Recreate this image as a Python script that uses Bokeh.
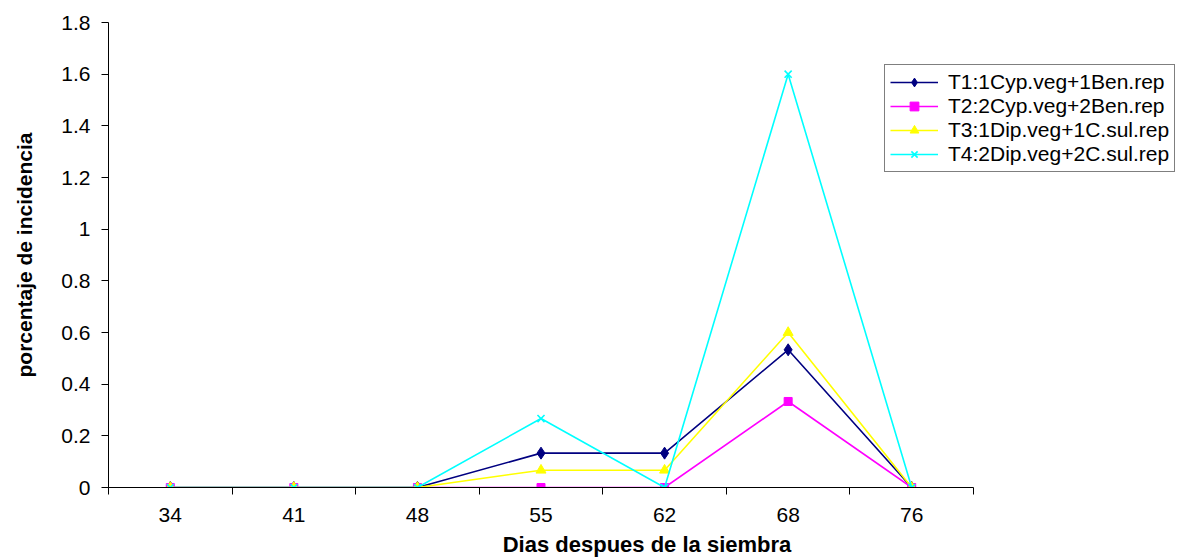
from bokeh.plotting import figure
from bokeh.models import (Range1d, FixedTicker, CustomJSTickFormatter)
from bokeh.embed import file_html
from bokeh.resources import INLINE

days = ["34", "41", "48", "55", "62", "68", "76"]
t1 = [0, 0, 0, 0.133, 0.133, 0.533, 0]
t2 = [0, 0, 0, 0, 0, 0.333, 0]
t3 = [0, 0, 0, 0.067, 0.067, 0.6, 0]
t4 = [0, 0, 0, 0.267, 0, 1.6, 0]
names = ["T1:1Cyp.veg+1Ben.rep", "T2:2Cyp.veg+2Ben.rep",
         "T3:1Dip.veg+1C.sul.rep", "T4:2Dip.veg+2C.sul.rep"]
yticks = [0, 0.2, 0.4, 0.6, 0.8, 1.0, 1.2, 1.4, 1.6, 1.8]

FONT = "Liberation Sans"

# layout (pixels)
W, H = 1192, 559
LEFT, TOP, BOTTOM = 108, 22, 72
AXIS_RIGHT = 973      # where the x axis ends
FRAME_RIGHT = 1185    # frame extends under the legend

n = len(days)
xpos = [i + 0.5 for i in range(n)]
bounds = list(range(n + 1))
x_end = n * (FRAME_RIGHT - LEFT) / (AXIS_RIGHT - LEFT)

p = figure(width=W, height=H,
           x_range=Range1d(0, x_end),
           y_range=Range1d(0, 1.8),
           output_backend="svg", toolbar_location=None,
           min_border_left=LEFT, min_border_right=W - FRAME_RIGHT,
           min_border_top=TOP, min_border_bottom=BOTTOM)
p.outline_line_color = None
p.xgrid.visible = False
p.ygrid.visible = False
p.background_fill_color = "white"
p.border_fill_color = "white"

# y axis
ya = p.yaxis[0]
ya.ticker = FixedTicker(ticks=yticks)
ya.formatter = CustomJSTickFormatter(code="return String(Math.round(tick*10)/10);")
ya.major_tick_in = 0
ya.major_tick_out = 7
ya.minor_tick_line_color = None
ya.axis_line_color = "black"
ya.major_tick_line_color = "black"
ya.major_label_text_font = FONT
ya.major_label_text_font_size = "21px"
ya.major_label_text_color = "black"
ya.major_label_standoff = 11
ya.axis_label = "porcentaje de incidencia"
ya.axis_label_text_font = FONT
ya.axis_label_text_font_style = "bold"
ya.axis_label_text_font_size = "21px"
ya.axis_label_text_color = "black"
ya.axis_label_standoff = 22

# x axis: labels at slot centres, ticks at slot boundaries
xa = p.xaxis[0]
xa.bounds = (0, n)
xa.ticker = FixedTicker(ticks=xpos, minor_ticks=bounds)
xa.formatter = CustomJSTickFormatter(args=dict(labels=days),
                                     code="return labels[Math.floor(tick)];")
xa.major_tick_in = 0
xa.major_tick_out = 0
xa.minor_tick_in = 0
xa.minor_tick_out = 7
xa.minor_tick_line_color = "black"
xa.axis_line_color = "black"
xa.major_label_text_font = FONT
xa.major_label_text_font_size = "21px"
xa.major_label_text_color = "black"
xa.major_label_standoff = 13
xa.axis_label = "Dias despues de la siembra"
xa.axis_label_text_font = FONT
xa.axis_label_text_font_style = "bold"
xa.axis_label_text_font_size = "22px"
xa.axis_label_text_color = "black"
xa.axis_label_standoff = 7

series = [
    (t1, "#000080", "diamond", 12),
    (t2, "#FF00FF", "square", 8),
    (t3, "#FFFF00", "triangle", 10),
    (t4, "#00FFFF", "x", 10),
]
for (vals, col, mk, sz), nm in zip(series, names):
    p.line(xpos, vals, line_color=col, line_width=1.6, legend_label=nm)
    if mk == "x":
        p.scatter(xpos, vals, marker=mk, size=sz, line_color=col, line_width=1.6,
                  legend_label=nm)
    else:
        p.scatter(xpos, vals, marker=mk, size=sz, fill_color=col, line_color=col,
                  legend_label=nm)

lg = p.legend[0]
lg.location = (884 - LEFT, 315)
lg.label_text_font = FONT
lg.label_text_font_size = "21px"
lg.label_text_color = "black"
lg.border_line_color = "black"
lg.border_line_width = 1
lg.background_fill_color = "white"
lg.background_fill_alpha = 1
lg.padding = 5
lg.spacing = 0
lg.margin = 0
lg.glyph_width = 48
lg.glyph_height = 22
lg.label_height = 22
lg.label_standoff = 10

open("out.html", "w").write(file_html(p, INLINE))
